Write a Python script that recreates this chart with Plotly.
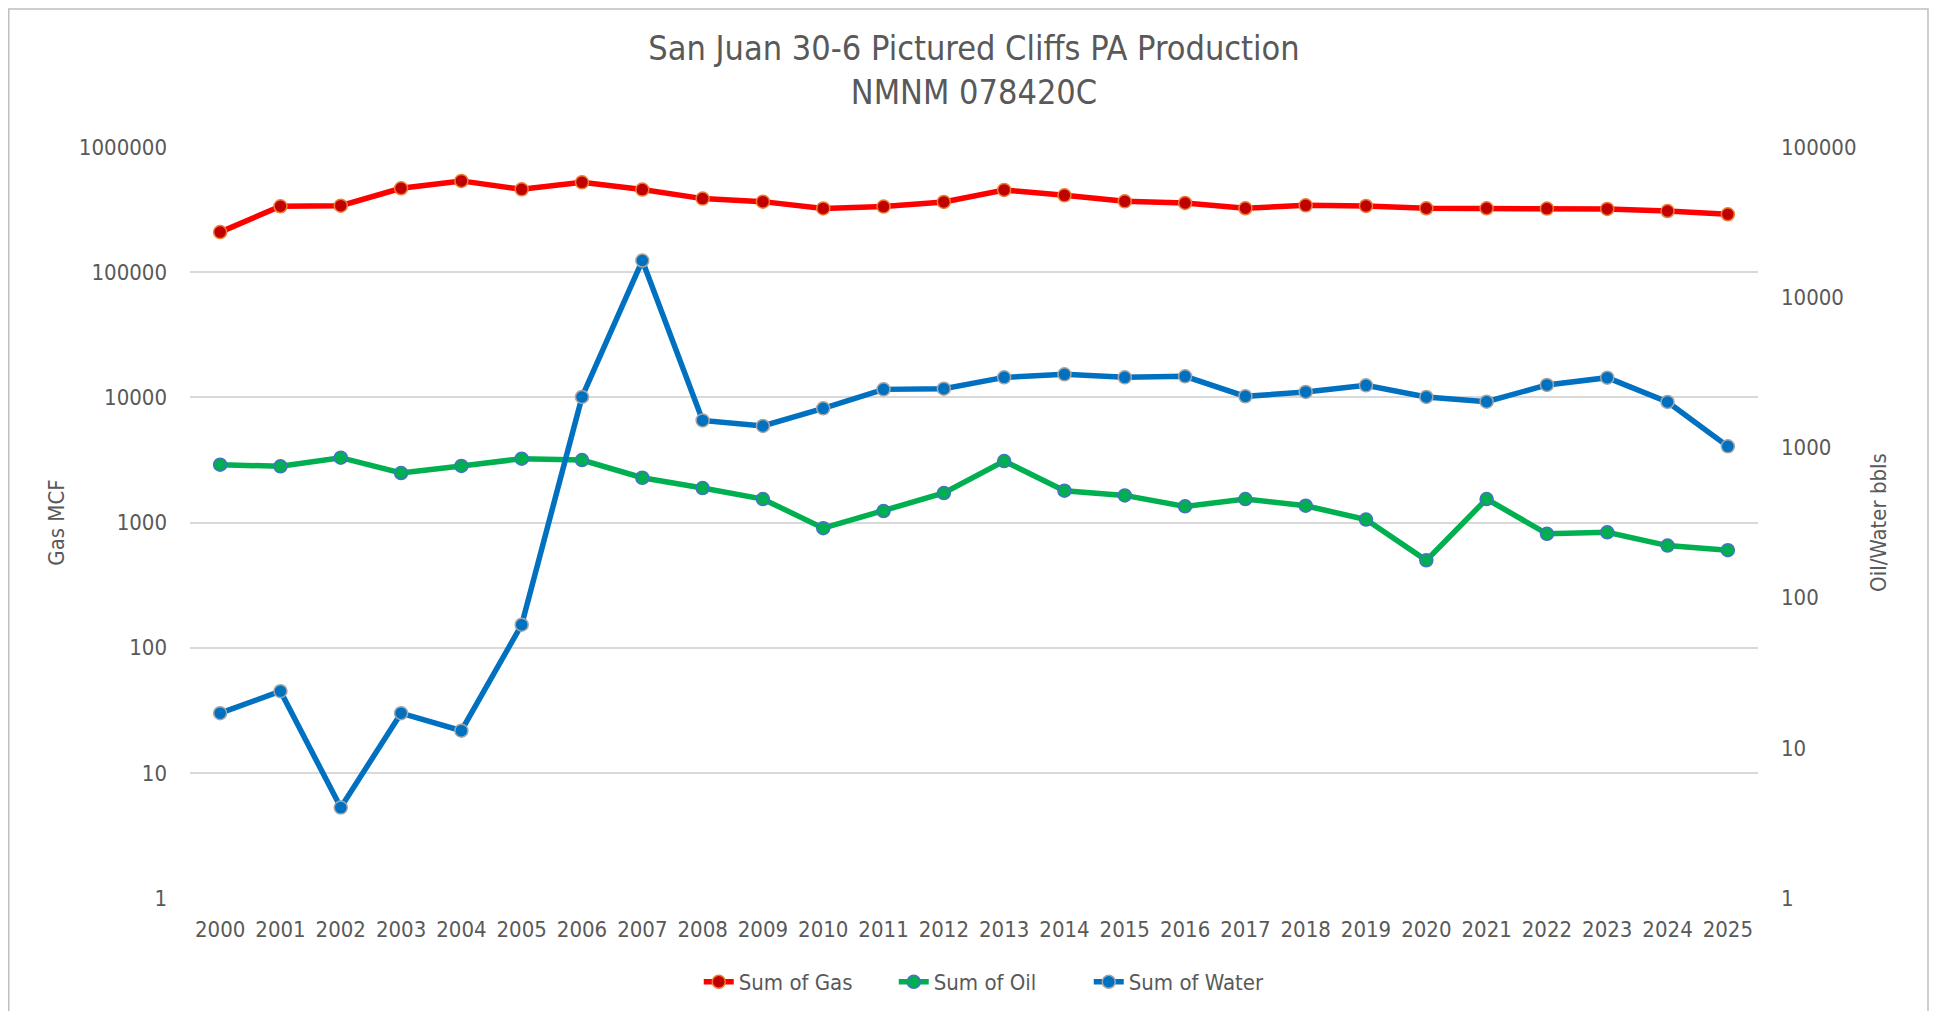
import plotly.graph_objects as go

years = [str(y) for y in range(2000, 2026)]

gas = [209000, 336000, 340000, 468000, 536000, 459000, 522000, 457000, 387000, 366000,
       323000, 334000, 364000, 454000, 411000, 368000, 357000, 324000, 342000, 338000,
       324000, 324000, 322000, 320000, 308000, 290000]

oil = [767, 748, 854, 675, 752, 841, 824, 628, 536, 453,
       290, 377, 497, 811, 515, 479, 405, 453, 409, 331,
       177, 453, 266, 272, 222, 207]

water = [17, 23.8, 4.0, 17, 13, 66, 2167, 17540, 1513, 1389,
         1820, 2434, 2462, 2926, 3064, 2926, 2972, 2187, 2340, 2589,
         2167, 2015, 2606, 2913, 2006, 1016]

left_ticks = [1, 10, 100, 1000, 10000, 100000, 1000000]
right_ticks = [1, 10, 100, 1000, 10000, 100000]

FONT = "Liberation Sans Narrow, DejaVu Sans Condensed, Lato, sans-serif"
GREY = "#595959"

# page has an 8px body margin; size the figure to fit inside the viewport
W, H = 1921, 1003
ML, MR, MT, MB = 182, 171, 139, 113

fig = go.Figure()
fig.add_trace(go.Scatter(
    x=years, y=gas, name="Sum of Gas", mode="lines+markers",
    line=dict(color="#FF0000", width=5.5),
    marker=dict(size=13, color="#C00000", line=dict(color="#ED7D31", width=1.5)),
    yaxis="y"))
fig.add_trace(go.Scatter(
    x=years, y=oil, name="Sum of Oil", mode="lines+markers",
    line=dict(color="#00B050", width=5.5),
    marker=dict(size=13, color="#00B050", line=dict(color="#4472C4", width=1.5)),
    yaxis="y2"))
fig.add_trace(go.Scatter(
    x=years, y=water, name="Sum of Water", mode="lines+markers",
    line=dict(color="#0070C0", width=5.5),
    marker=dict(size=13, color="#0070C0", line=dict(color="#A5A5A5", width=1.5)),
    yaxis="y2"))

pw = W - ML - MR
ph = H - MT - MB

fig.update_layout(
    width=W, height=H,
    margin=dict(l=ML, r=MR, t=MT, b=MB, autoexpand=False),
    paper_bgcolor="white", plot_bgcolor="white",
    font=dict(family=FONT, color=GREY, size=22),
    title=dict(text="San Juan 30-6 Pictured Cliffs PA Production<br>NMNM 078420C",
               x=0.5, xref="paper", xanchor="center",
               y=1 - 52 / H, yref="container", yanchor="middle",
               font=dict(family=FONT, size=34, color=GREY)),
    xaxis=dict(type="category", range=[-0.5, 25.5], showgrid=False,
               showline=False, ticks="", tickfont=dict(size=22, color=GREY),
               ticklabelstandoff=16, automargin=False),
    yaxis=dict(type="log", range=[0, 6], tickmode="array",
               tickvals=left_ticks, ticktext=[str(v) for v in left_ticks],
               showgrid=True, gridcolor="#D9D9D9", gridwidth=1.5,
               showline=False, ticks="", ticklabelstandoff=22,
               tickfont=dict(size=22, color=GREY), automargin=False,
               title=dict(text="Gas MCF", font=dict(size=22, color=GREY), standoff=8)),
    yaxis2=dict(type="log", range=[0, 5], overlaying="y", side="right",
                tickmode="array", tickvals=right_ticks,
                ticktext=[str(v) for v in right_ticks],
                showgrid=False, showline=False, ticks="", ticklabelstandoff=22,
                tickfont=dict(size=22, color=GREY), automargin=False,
                title=dict(text="Oil/Water bbls", font=dict(size=22, color=GREY), standoff=15)),
    legend=dict(orientation="h", x=0.511, xanchor="center",
                y=1 - 974 / H, yref="container", yanchor="middle",
                font=dict(size=22, color=GREY), bgcolor="rgba(0,0,0,0)",
                entrywidth=150, entrywidthmode="pixels"),
    showlegend=True,
)

# chart border
x0 = (0.75 - ML) / pw
x1 = (1920 - ML) / pw
y1 = (H - MB - 1) / ph
y0 = (H - MB - 1030) / ph
fig.add_shape(type="rect", xref="paper", yref="paper", x0=x0, x1=x1, y0=y0, y1=y1,
              line=dict(color="#BFBFBF", width=1.5), fillcolor="rgba(0,0,0,0)", layer="below")

fig.write_html("out.html")
